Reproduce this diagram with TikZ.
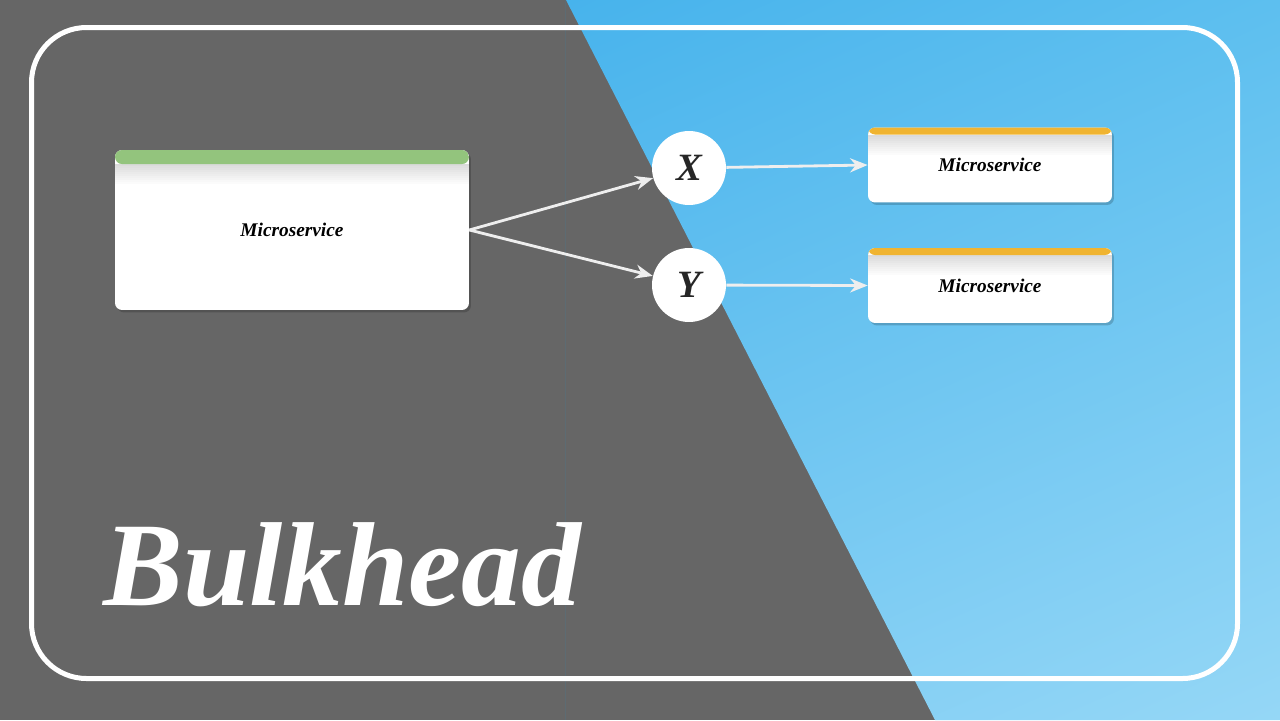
\documentclass[tikz,border=0pt]{standalone}
\usepackage{fontspec}
\setmainfont{Liberation Serif}
\usetikzlibrary{arrows.meta,positioning,shadows,shadings,calc}
\definecolor{slate}{HTML}{666666}
\definecolor{skyA}{HTML}{47B3EC}
\definecolor{skyB}{HTML}{5DBFEF}
\definecolor{skyC}{HTML}{7ECCF3}
\definecolor{skyD}{HTML}{95D7F6}
\definecolor{barGreen}{HTML}{93C47D}
\definecolor{barOrange}{HTML}{F0B431}
\definecolor{linkGrey}{HTML}{EEEEEE}

\begin{document}
\begin{tikzpicture}[
  x=0.02cm, y=-0.02cm,
  svcbox/.style 2 args={rectangle, fill=white, inner sep=0pt, rounded corners=0.14cm,
    drop shadow={shadow xshift=0.04cm, shadow yshift=-0.05cm, opacity=0.18, fill=black},
    font=\fontsize{11}{11}\selectfont\bfseries\itshape,
    path picture={
      \foreach \s [evaluate=\s as \op using 0.014*(10-\s)] in {0,...,9}
        \fill[black, opacity=\op, sharp corners]
          ([yshift=-#2-\s*0.04cm]path picture bounding box.north west) rectangle
          ([yshift=-#2-\s*0.04cm-0.04cm]path picture bounding box.north east);
      \fill[#1] (path picture bounding box.north west) rectangle
        ([yshift=-#2]path picture bounding box.north east);}},
  gate/.style={circle, fill=white, minimum size=1.48cm, inner sep=0pt,
    font=\fontsize{22}{22}\selectfont\bfseries\itshape, text=black!85},
  link/.style={-{Stealth[length=10pt,width=8pt]}, line width=1.6pt, draw=linkGrey}
]
  % background halves
  \useasboundingbox (0,0) rectangle (1280,720);
  \fill[slate] (0,0) rectangle (1280,720);
  \shade[upper left=skyA, upper right=skyB, lower left=skyC, lower right=skyD]
    (566,0) -- (1280,0) -- (1280,720) -- (935,720) -- cycle;
  \draw[black!45!cyan, opacity=0.25, line width=0.4pt] (565,0) -- (565,720);
  \draw[white, line width=0.1cm, rounded corners=1.1cm] (31.5,27.5) rectangle (1237.5,678.5);

  % services
  \node[svcbox={barGreen}{0.28cm}, minimum width=7.08cm, minimum height=3.2cm] (caller) at (292,230) {Microservice};
  \foreach \k/\y in {X/168, Y/285}
    \node[gate] (gate-\k) at (689,\y) {\k};
  \foreach \k/\y in {X/165, Y/285.5}
    \node[svcbox={barOrange}{0.14cm}, minimum width=4.88cm, minimum height=1.5cm] (svc-\k) at (990,\y) {Microservice};

  % calls
  \foreach \k in {X,Y} {
    \draw[link] (caller.east) -- (gate-\k);
    \draw[link] (gate-\k) -- (svc-\k.west);
  }

  \node[anchor=base west, inner sep=0pt, text=white,
    font=\fontsize{68}{68}\selectfont\bfseries\itshape] (title) at (103,605) {Bulkhead};
\end{tikzpicture}
\end{document}
